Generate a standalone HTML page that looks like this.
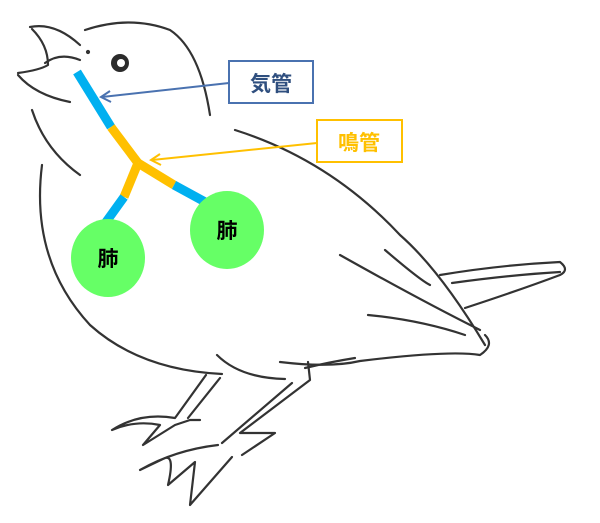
<!DOCTYPE html>
<html><head><meta charset="utf-8"><style>
html,body{margin:0;padding:0;background:#fff;}
body{width:600px;height:523px;overflow:hidden;position:relative;}
svg{position:absolute;left:0;top:0;}
</style></head><body>
<svg width="600" height="523" viewBox="0 0 600 523" xmlns="http://www.w3.org/2000/svg">
<g fill="none" stroke="#333" stroke-width="2.2" stroke-linecap="round" stroke-linejoin="round">
<!-- beak -->
<path d="M30 27 Q55 22 80 45"/>
<path d="M32 29 Q48 45 48 65 Q40 70 18 73"/>
<path d="M45 63 Q60 52 80 60"/>
<path d="M18 75 Q35 95 70 102"/>
<circle cx="88" cy="52" r="1" fill="#333"/>
<!-- head -->
<path d="M85 30 Q130 15 170 30 Q200 50 210 115"/>
<path d="M32 110 Q45 150 80 175"/>
<path d="M42 165 Q30 260 90 325 Q140 370 222 374"/>
<path d="M217 355 Q240 378 285 379"/>
<!-- back / wing -->
<path d="M235 130 Q330 160 400 235 Q440 270 485 345"/>
<path d="M340 255 Q420 300 480 330"/>
<path d="M368 315 Q420 320 465 335"/>
<path d="M385 250 Q420 280 430 285"/>
<path d="M280 362 Q330 368 360 361 Q450 350 480 355 Q495 345 485 335"/>
<path d="M305 368 Q330 362 355 358"/>
<!-- tail -->
<path d="M440 275 Q500 265 560 262 Q570 270 560 275 Q520 290 465 308"/>
<path d="M452 283 Q510 275 560 272"/>
<!-- left leg -->
<path d="M206 375 L175 418 Q140 412 112 430 Q135 420 160 425 L143 445 L175 425 L190 420 L200 420"/>
<path d="M220 378 L188 418"/>
<!-- right leg -->
<path d="M292 383 L222 443"/>
<path d="M308 362 L310 380 L240 433 L275 433 L242 455"/>
<path d="M218 445 Q175 450 140 470 L165 458 Q175 455 168 485 L195 462 L190 505 L232 457"/>
</g>
<!-- eye -->
<circle cx="120" cy="63" r="9" fill="#2b2b2b"/>
<circle cx="121" cy="63" r="4" fill="#fff"/>
<!-- airway -->
<g stroke-width="9" stroke-linecap="butt" fill="none">
<line x1="77" y1="72" x2="111" y2="127" stroke="#00b0f0"/>
<line x1="111" y1="127" x2="138" y2="163" stroke="#ffc000"/>
<line x1="138" y1="163" x2="124" y2="197" stroke="#ffc000"/>
<line x1="124" y1="197" x2="106" y2="222" stroke="#00b0f0"/>
<line x1="138" y1="163" x2="174" y2="185" stroke="#ffc000"/>
<line x1="174" y1="185" x2="207" y2="203" stroke="#00b0f0"/>
</g>
<!-- lungs -->
<ellipse cx="108" cy="258" rx="37" ry="39" fill="#66ff66"/>
<ellipse cx="227" cy="230" rx="37" ry="39" fill="#66ff66"/>
<text x="108" y="266" font-family="Liberation Sans,'Noto Sans CJK JP',sans-serif" font-size="21" font-weight="bold" text-anchor="middle" fill="#000">肺</text>
<text x="227" y="238" font-family="Liberation Sans,'Noto Sans CJK JP',sans-serif" font-size="21" font-weight="bold" text-anchor="middle" fill="#000">肺</text>
<!-- arrows -->
<g fill="none" stroke-width="2">
<line x1="229" y1="83" x2="102" y2="97" stroke="#4a72b0"/>
<path d="M110 91 L101 97 L111 102" stroke="#4a72b0"/>
<line x1="317" y1="143" x2="152" y2="160" stroke="#ffc000"/>
<path d="M160 154 L151 160 L161 165" stroke="#ffc000"/>
</g>
<!-- boxes -->
<rect x="229" y="61" width="84" height="42" fill="#fff" stroke="#4a72b0" stroke-width="2"/>
<text x="271" y="91" font-family="Liberation Sans,'Noto Sans CJK JP',sans-serif" font-size="21" font-weight="bold" text-anchor="middle" fill="#2f4f7f">気管</text>
<rect x="317" y="120" width="85" height="42" fill="#fff" stroke="#ffc000" stroke-width="2"/>
<text x="359" y="150" font-family="Liberation Sans,'Noto Sans CJK JP',sans-serif" font-size="21" font-weight="bold" text-anchor="middle" fill="#ffc000">鳴管</text>
</svg>
</body></html>
